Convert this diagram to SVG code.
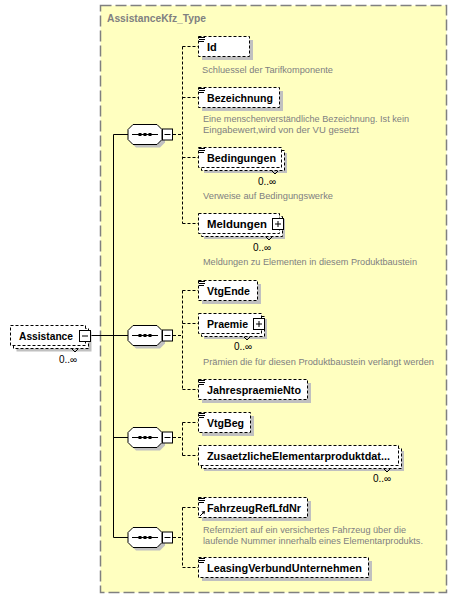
<svg xmlns="http://www.w3.org/2000/svg" width="458" height="599" viewBox="0 0 458 599">
<style>
.bg{fill:#ffffc0;stroke:#808080;stroke-width:1.5;stroke-dasharray:11 4}
.title{font-family:"Liberation Sans",Arial,sans-serif;font-weight:bold;font-size:11px;fill:#808080}
.box{fill:#fff;stroke:#000;stroke-width:1;stroke-dasharray:3 2}
.sh{fill:#c0c0c0}
.name{font-family:"Liberation Sans",Arial,sans-serif;font-weight:bold;font-size:11px;fill:#000}
.desc{font-family:"Liberation Sans",Arial,sans-serif;font-size:9.5px;fill:#808080}
.occ{font-family:"Liberation Sans",Arial,sans-serif;font-size:10px;fill:#000}
.solid{stroke:#000;stroke-width:1;fill:none}
.dash{stroke:#000;stroke-width:1;fill:none;stroke-dasharray:3 2}
.oct{fill:#fff;stroke:#000;stroke-width:1}
.btn{fill:#fff;stroke:#000;stroke-width:1}
.ic{stroke:#000;stroke-width:1;fill:none}
</style>
<defs>
<g id="seq">
<polygon class="sh" points="136,-7 160,-7 165,-2 165,8 160,13 136,13 131,8 131,-2"/>
<polygon class="oct" points="133,-10 157,-10 162,-5 162,5 157,10 133,10 128,5 128,-5"/>
<line class="ic" x1="132" y1="0" x2="158" y2="0"/>
<rect x="138.5" y="-1.5" width="3" height="3" fill="#000"/>
<rect x="143.5" y="-1.5" width="3" height="3" fill="#000"/>
<rect x="148.5" y="-1.5" width="3" height="3" fill="#000"/>
<rect class="btn" x="162.5" y="-5.5" width="10" height="11"/>
<line class="ic" x1="164.5" y1="0" x2="170.5" y2="0"/>
</g>
<g id="eq">
<line class="ic" x1="199" y1="37.5" x2="205" y2="37.5"/>
<line class="ic" x1="199" y1="39.5" x2="205" y2="39.5"/>
<line class="ic" x1="199" y1="41.5" x2="204" y2="41.5"/>
</g>
</defs>

<rect class="bg" x="100.5" y="5.5" width="346" height="587"/>
<text class="title" x="107" y="22" textLength="99" lengthAdjust="spacingAndGlyphs">AssistanceKfz_Type</text>

<g id="connectors">
<line class="solid" x1="90.5" y1="335.5" x2="128" y2="335.5"/>
<line class="solid" x1="113.5" y1="134.5" x2="113.5" y2="537.5"/>
<line class="solid" x1="113.5" y1="134.5" x2="128" y2="134.5"/>
<line class="solid" x1="113.5" y1="437.5" x2="128" y2="437.5"/>
<line class="solid" x1="113.5" y1="537.5" x2="128" y2="537.5"/>
<line class="dash" x1="173" y1="134.5" x2="182.5" y2="134.5"/>
<line class="dash" x1="182.5" y1="46.5" x2="182.5" y2="223.5"/>
<line class="dash" x1="182.5" y1="46.5" x2="198" y2="46.5"/>
<line class="dash" x1="182.5" y1="97.5" x2="198" y2="97.5"/>
<line class="dash" x1="182.5" y1="157.5" x2="198" y2="157.5"/>
<line class="dash" x1="182.5" y1="223.5" x2="198" y2="223.5"/>
<line class="dash" x1="173" y1="335.5" x2="182.5" y2="335.5"/>
<line class="dash" x1="182.5" y1="290.5" x2="182.5" y2="389.5"/>
<line class="dash" x1="182.5" y1="290.5" x2="198" y2="290.5"/>
<line class="dash" x1="182.5" y1="323.5" x2="198" y2="323.5"/>
<line class="dash" x1="182.5" y1="389.5" x2="198" y2="389.5"/>
<line class="dash" x1="173" y1="437.5" x2="182.5" y2="437.5"/>
<line class="dash" x1="182.5" y1="422.5" x2="182.5" y2="455.5"/>
<line class="dash" x1="182.5" y1="422.5" x2="198" y2="422.5"/>
<line class="dash" x1="182.5" y1="455.5" x2="198" y2="455.5"/>
<line class="dash" x1="173" y1="537.5" x2="182.5" y2="537.5"/>
<line class="dash" x1="182.5" y1="507.5" x2="182.5" y2="567.5"/>
<line class="dash" x1="182.5" y1="507.5" x2="198" y2="507.5"/>
<line class="dash" x1="182.5" y1="567.5" x2="198" y2="567.5"/>
</g>

<g id="seq1"><use href="#seq" transform="translate(0,134.5)"/></g>
<g id="seq2"><use href="#seq" transform="translate(0,335.5)"/></g>
<g id="seq3"><use href="#seq" transform="translate(0,437.5)"/></g>
<g id="seq4"><use href="#seq" transform="translate(0,537.5)"/></g>

<g id="Assistance">
<rect class="sh" x="16.5" y="331.5" width="75" height="20"/>
<rect class="box" x="13.5" y="328.5" width="75" height="20"/>
<rect class="box" x="10.5" y="325.5" width="75" height="20"/>
<text class="name" x="19" y="340" textLength="54" lengthAdjust="spacingAndGlyphs">Assistance</text>
<rect class="btn" x="79.5" y="330.5" width="11" height="11"/>
<line class="ic" x1="82" y1="336" x2="88" y2="336"/>
<polyline class="ic" points="72,349 75,352 78,349" stroke-width="0.8"/>
<text class="occ" x="59" y="363">0..∞</text>
</g>

<g id="Id">
<rect class="sh" x="202" y="40" width="51" height="20"/>
<rect class="box" x="198.5" y="36.5" width="51" height="20"/>
<use href="#eq"/>
<text class="name" x="207" y="51">Id</text>
<text class="desc" x="202" y="72.5" textLength="131" lengthAdjust="spacingAndGlyphs">Schluessel der Tarifkomponente</text>
</g>

<g id="Bezeichnung">
<rect class="sh" x="202" y="91" width="81" height="20"/>
<rect class="box" x="198.5" y="87.5" width="81" height="20"/>
<use href="#eq" transform="translate(0,51)"/>
<text class="name" x="207" y="102" textLength="66" lengthAdjust="spacingAndGlyphs">Bezeichnung</text>
<text class="desc" x="203" y="121.5" textLength="206" lengthAdjust="spacingAndGlyphs">Eine menschenverständliche Bezeichnung. Ist kein</text>
<text class="desc" x="203" y="132.5" textLength="156" lengthAdjust="spacingAndGlyphs">Eingabewert,wird von der VU gesetzt</text>
</g>

<g id="Bedingungen">
<rect class="sh" x="204" y="153" width="83" height="20"/>
<rect class="box" x="201.5" y="150.5" width="83" height="20"/>
<rect class="box" x="198.5" y="147.5" width="83" height="20"/>
<use href="#eq" transform="translate(0,111)"/>
<text class="name" x="207" y="162" textLength="69" lengthAdjust="spacingAndGlyphs">Bedingungen</text>
<polyline class="ic" points="272,171 275,174 278,171" stroke-width="0.8"/>
<text class="occ" x="258" y="185">0..∞</text>
<text class="desc" x="203" y="198.5" textLength="130" lengthAdjust="spacingAndGlyphs">Verweise auf Bedingungswerke</text>
</g>

<g id="Meldungen">
<rect class="sh" x="204" y="219" width="81" height="20"/>
<rect class="box" x="201.5" y="216.5" width="81" height="20"/>
<rect class="box" x="198.5" y="213.5" width="81" height="20"/>
<text class="name" x="207" y="228" textLength="60" lengthAdjust="spacingAndGlyphs">Meldungen</text>
<rect class="btn" x="272.5" y="218.5" width="11" height="11"/>
<line class="ic" x1="275" y1="224" x2="281" y2="224"/>
<line class="ic" x1="278" y1="221" x2="278" y2="227"/>
<polyline class="ic" points="266,237 269,240 272,237" stroke-width="0.8"/>
<text class="occ" x="253" y="251">0..∞</text>
<text class="desc" x="203" y="264.5" textLength="214" lengthAdjust="spacingAndGlyphs">Meldungen zu Elementen in diesem Produktbaustein</text>
</g>

<g id="VtgEnde">
<rect class="sh" x="202" y="284" width="59" height="20"/>
<rect class="box" x="198.5" y="280.5" width="59" height="20"/>
<use href="#eq" transform="translate(0,244)"/>
<text class="name" x="207" y="295" textLength="43" lengthAdjust="spacingAndGlyphs">VtgEnde</text>
</g>

<g id="Praemie">
<rect class="sh" x="204" y="319" width="63" height="20"/>
<rect class="box" x="201.5" y="316.5" width="63" height="20"/>
<rect class="box" x="198.5" y="313.5" width="63" height="20"/>
<text class="name" x="207" y="328" textLength="41" lengthAdjust="spacingAndGlyphs">Praemie</text>
<rect class="btn" x="253.5" y="318.5" width="11" height="11"/>
<line class="ic" x1="256" y1="324" x2="262" y2="324"/>
<line class="ic" x1="259" y1="321" x2="259" y2="327"/>
<polyline class="ic" points="244,337 247,340 250,337" stroke-width="0.8"/>
<text class="occ" x="234" y="350">0..∞</text>
<text class="desc" x="203" y="364.5" textLength="231" lengthAdjust="spacingAndGlyphs">Prämien die für diesen Produktbaustein verlangt werden</text>
</g>

<g id="JahrespraemieNto">
<rect class="sh" x="202" y="383" width="109" height="20"/>
<rect class="box" x="198.5" y="379.5" width="109" height="20"/>
<use href="#eq" transform="translate(0,343)"/>
<text class="name" x="207" y="394" textLength="94" lengthAdjust="spacingAndGlyphs">JahrespraemieNto</text>
</g>

<g id="VtgBeg">
<rect class="sh" x="202" y="416" width="52" height="20"/>
<rect class="box" x="198.5" y="412.5" width="52" height="20"/>
<use href="#eq" transform="translate(0,376)"/>
<text class="name" x="207" y="427" textLength="37" lengthAdjust="spacingAndGlyphs">VtgBeg</text>
</g>

<g id="ZusaetzlicheElementarproduktdaten">
<rect class="sh" x="204" y="451" width="200" height="20"/>
<rect class="box" x="201.5" y="448.5" width="200" height="20"/>
<rect class="box" x="198.5" y="445.5" width="200" height="20"/>
<text class="name" x="207" y="460" textLength="183" lengthAdjust="spacingAndGlyphs">ZusaetzlicheElementarproduktdat...</text>
<polyline class="ic" points="384,469 387,472 390,469" stroke-width="0.8"/>
<text class="occ" x="373" y="482">0..∞</text>
</g>

<g id="FahrzeugRefLfdNr">
<rect class="sh" x="202" y="501" width="109" height="20"/>
<rect class="box" x="198.5" y="497.5" width="109" height="20"/>
<use href="#eq" transform="translate(0,461)"/>
<line class="ic" x1="200" y1="516" x2="204" y2="512"/>
<polygon points="205,511 201.5,511.5 204.5,514.5" fill="#000"/>
<text class="name" x="207" y="512" textLength="94" lengthAdjust="spacingAndGlyphs">FahrzeugRefLfdNr</text>
<text class="desc" x="203" y="532.5" textLength="203" lengthAdjust="spacingAndGlyphs">Refernziert auf ein versichertes Fahrzeug über die</text>
<text class="desc" x="203" y="543.5" textLength="220" lengthAdjust="spacingAndGlyphs">laufende Nummer innerhalb eines Elementarprodukts.</text>
</g>

<g id="LeasingVerbundUnternehmen">
<rect class="sh" x="202" y="561" width="170" height="20"/>
<rect class="box" x="198.5" y="557.5" width="170" height="20"/>
<use href="#eq" transform="translate(0,521)"/>
<text class="name" x="207" y="572" textLength="155" lengthAdjust="spacingAndGlyphs">LeasingVerbundUnternehmen</text>
</g>
</svg>
